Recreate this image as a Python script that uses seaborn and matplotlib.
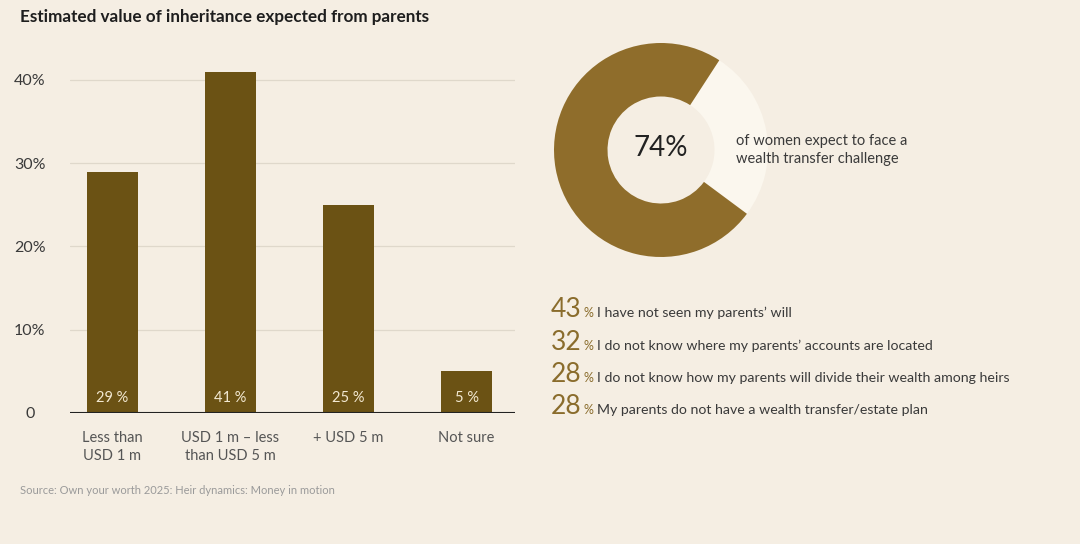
import matplotlib
matplotlib.use("Agg")
import matplotlib.pyplot as plt
import pandas as pd
import seaborn as sns

# --- data ---
categories = ["Less than\nUSD 1 m", "USD 1 m – less\nthan USD 5 m", "+ USD 5 m", "Not sure"]
values = [29, 41, 25, 5]
bar_labels = ["29 %", "41 %", "25 %", "5 %"]
y_ticks = [0, 10, 20, 30, 40]
y_tick_labels = ["0", "10%", "20%", "30%", "40%"]

donut_share = 74
donut_text = "of women expect to face a\nwealth transfer challenge"

stat_values = [43, 32, 28, 28]
stat_texts = [
    "I have not seen my parents’ will",
    "I do not know where my parents’ accounts are located",
    "I do not know how my parents will divide their wealth among heirs",
    "My parents do not have a wealth transfer/estate plan",
]

title = "Estimated value of inheritance expected from parents"
source = "Source: Own your worth 2025: Heir dynamics: Money in motion"

# --- colours ---
BG = "#F5EEE3"
BAR = "#6B5214"
DONUT = "#8F6D2B"
DONUT_LIGHT = "#FBF7EE"
GRID = "#DFD8CB"
TEXT = "#3A3A3A"
NUM = "#8A6C2C"

sns.set_theme(style="white")
plt.rcParams["font.family"] = ["Lato", "DejaVu Sans"]

W, H = 1080, 544
fig = plt.figure(figsize=(W / 100, H / 100), dpi=100, facecolor=BG)


def fx(px):
    return px / W


def fy(py):
    return 1 - py / H


# --- bar chart ---
ax = fig.add_axes([fx(70), fy(413), fx(515) - fx(70), fy(60) - fy(413)])
ax.set_facecolor(BG)
df = pd.DataFrame({"cat": categories, "val": values})
sns.barplot(data=df, x="cat", y="val", color=BAR, width=0.43, saturation=1,
            linewidth=0, edgecolor=BAR, ax=ax, zorder=3)
ax.set_ylim(0, 42.4)
ax.set_xlim(-0.36, 3.41)
ax.set_yticks(y_ticks)
ax.set_yticklabels(y_tick_labels, fontsize=11.5, color=TEXT)
for t in y_ticks[1:]:
    ax.axhline(t, color=GRID, lw=0.9, zorder=1)
ax.axhline(0, color="#222222", lw=1.5, zorder=4)
ax.tick_params(axis="x", length=0, pad=13, labelsize=10.5, labelcolor="#555555")
for lbl in ax.get_xticklabels():
    lbl.set_linespacing(1.35)
ax.set_xlabel("")
ax.set_ylabel("")
for s in ax.spines.values():
    s.set_visible(False)
for i, lab in enumerate(bar_labels):
    ax.text(i, 0.95, lab, ha="center", va="bottom", fontsize=10.5, color="#F3E9D2", zorder=5)
for lbl in ax.get_yticklabels():
    lbl.set_horizontalalignment("center")
ax.tick_params(axis="y", length=0, pad=29)

# --- donut ---
r = 107
dax = fig.add_axes([fx(661 - r), fy(150 + r), fx(2 * r), fy(150 - r) - fy(150 + r)])
dax.set_facecolor(BG)
dax.pie([100 - donut_share, donut_share], colors=[DONUT_LIGHT, DONUT], startangle=57,
        counterclock=False, radius=1, wedgeprops=dict(width=0.5, linewidth=0))
dax.set_xlim(-1, 1)
dax.set_ylim(-1, 1)
dax.set_aspect("equal")
dax.axis("off")
dax.text(0, 0.02, f"{donut_share}%", ha="center", va="center", fontsize=20, color="#222222")
fig.text(fx(736), fy(150), donut_text, ha="left", va="center", fontsize=10.5,
         color=TEXT, linespacing=1.45)

# --- statistics list ---
rows_y = [311, 344, 376, 408]
for v, t, y in zip(stat_values, stat_texts, rows_y):
    fig.text(fx(551), fy(y + 6), str(v), ha="left", va="baseline", fontsize=19, color=NUM)
    fig.text(fx(583), fy(y + 6), "%", ha="left", va="baseline", fontsize=9, color=NUM)
    fig.text(fx(597), fy(y + 6), t, ha="left", va="baseline", fontsize=10.2, color=TEXT)

# --- title and source ---
fig.text(fx(20), fy(17), title, ha="left", va="center", fontsize=12.3, fontweight="bold", color="#1E1E1E")
fig.text(fx(20), fy(491), source, ha="left", va="center", fontsize=8, color="#9A9A9A")

fig.savefig("out.png", dpi=100, facecolor=BG)
